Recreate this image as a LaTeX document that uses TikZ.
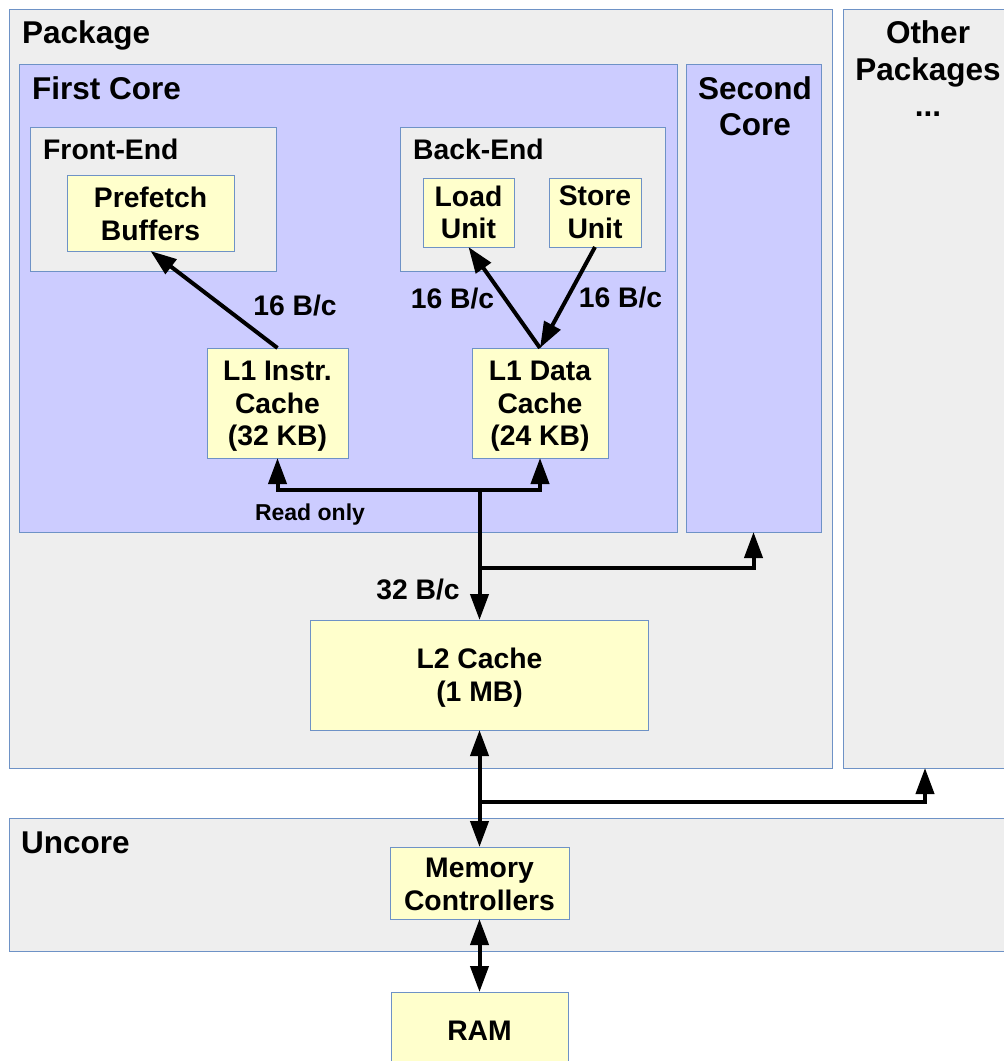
\documentclass[tikz,border=0pt]{standalone}
\usepackage{fontspec}
\setmainfont{Liberation Sans}
\usetikzlibrary{arrows.meta}
\definecolor{graybg}{HTML}{EEEEEE}
\definecolor{corebg}{HTML}{CCCCFF}
\definecolor{unitbg}{HTML}{FFFFCC}
\definecolor{bordc}{HTML}{6E92C6}
\newcommand{\topstrut}{\rule{0pt}{26pt}}
\newcommand{\midstrut}{\rule{0pt}{22.5pt}}
\tikzset{
  region/.style={draw=bordc, line width=1pt, fill=graybg, inner sep=0pt, outer sep=0pt},
  corebox/.style={draw=bordc, line width=1pt, fill=corebg, inner sep=0pt, outer sep=0pt},
  unitbox/.style={draw=bordc, line width=1pt, fill=unitbg, inner sep=0pt, outer sep=0pt, align=center,
    font=\bfseries\fontsize{28.3}{32.6}\selectfont},
  title/.style={inner sep=0pt, anchor=base west, font=\bfseries\fontsize{31.5}{36}\selectfont},
  ctitle/.style={inner sep=0pt, align=center, font=\bfseries\fontsize{31.5}{36.5}\selectfont},
  sublabel/.style={inner sep=0pt, anchor=base west, font=\bfseries\fontsize{28.3}{32}\selectfont},
  rate/.style={inner sep=0pt, font=\bfseries\fontsize{28.3}{32}\selectfont},
  small/.style={inner sep=0pt, font=\bfseries\fontsize{23}{27}\selectfont},
  conn/.style={line width=4pt, -{Triangle[length=26pt,width=18pt]}},
  dconn/.style={line width=4pt, {Triangle[length=26pt,width=18pt]}-{Triangle[length=26pt,width=18pt]}}
}
\begin{document}
\begin{tikzpicture}[x=1pt,y=-1pt]
\useasboundingbox (0,0) rectangle (1004,1061);
\clip (0,0) rectangle (1004,1061);
\fill[white] (0,0) rectangle (1004,1061);

% big regions
\node[region, minimum width=823pt, minimum height=759pt] (pkg) at (420.5,388.5) {};
\node[region, minimum width=164pt, minimum height=759pt] (op) at (925,388.5) {};
\node[region, minimum width=1001pt, minimum height=133pt] (unc) at (509.5,884.5) {};
\node[corebox, minimum width=658pt, minimum height=468pt] (fc) at (348,298) {};
\node[corebox, minimum width=135pt, minimum height=468pt] (sc) at (753.5,298) {};
\node[region, minimum width=246pt, minimum height=144pt] (fe) at (153,199) {};
\node[region, minimum width=265pt, minimum height=144pt] (be) at (532.5,199) {};

% titles
\node[title] (tpkg) at (22,43) {Package};
\node[title] (tfc) at (32,99) {First Core};
\node[sublabel] (tfe) at (43,159) {Front-End};
\node[sublabel] (tbe) at (413,159) {Back-End};
\node[title] (tunc) at (21,853) {Uncore};
\node[ctitle] (tsc) at (755,106) {Second\\Core};
\node[ctitle] (top) at (928,69) {Other\\Packages\\...};

% units
\node[unitbox, minimum width=167pt, minimum height=76pt] (pf) at (150.5,213) {\midstrut Prefetch\\Buffers};
\node[unitbox, minimum width=91pt, minimum height=69pt] (ld) at (468.5,212.5) {Load\\Unit};
\node[unitbox, minimum width=92pt, minimum height=69pt] (st) at (595,212.5) {Store\\Unit};
\node[unitbox, minimum width=141pt, minimum height=110pt] (l1i) at (277.5,403) {\topstrut L1 Instr.\\Cache\\(32 KB)};
\node[unitbox, minimum width=136pt, minimum height=110pt] (l1d) at (540,403) {\topstrut L1 Data\\Cache\\(24 KB)};
\node[unitbox, minimum width=338pt, minimum height=110pt] (l2) at (479.5,675) {\topstrut L2 Cache\\(1 MB)};
\node[unitbox, minimum width=179pt, minimum height=72pt] (mc) at (479.5,883) {\midstrut Memory\\Controllers};
\node[unitbox, minimum width=177pt, minimum height=78pt] (ram) at (479.5,1031) {RAM};

% connectors
\draw[conn] (l1i.north) -- (pf.south);
\draw[conn] (l1d.north) -- (ld.south);
\draw[conn] (st.south) -- (l1d.north);

\coordinate (j1) at (479.5,490);
\coordinate (j2) at (479.5,568);
\coordinate (j3) at (479.5,802);
\draw[conn] (j1) -| (l1i.south);
\draw[conn] (j1) -| (l1d.south);
\draw[conn] (j1) -- (l2.north);
\draw[conn] (j2) -| (sc.south);
\draw[dconn] (l2.south) -- (mc.north);
\draw[conn] (j3) -| (op.south);
\draw[dconn] (mc.south) -- (ram.north);

% rate labels
\node[rate] (r1) at (295,306) {16 B/c};
\node[rate] (r2) at (452.5,299) {16 B/c};
\node[rate] (r3) at (620.5,298) {16 B/c};
\node[rate] (r4) at (418,590) {32 B/c};
\node[small] (ro) at (310,515) {Read only};
\end{tikzpicture}
\end{document}
